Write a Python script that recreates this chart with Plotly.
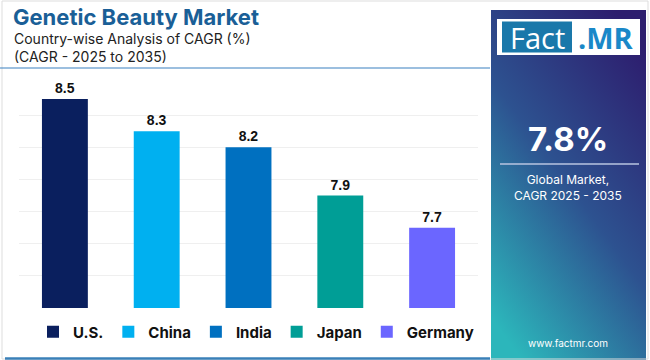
import plotly.graph_objects as go

countries = ["U.S.", "China", "India", "Japan", "Germany"]
cagr = [8.5, 8.3, 8.2, 7.9, 7.7]
colors = ["#0a1f5e", "#00b0f0", "#0070c0", "#009e96", "#6b66ff"]
global_cagr = "7.8%"

W, H = 650, 360
L, R, T, B = 19, 172, 83, 52
PW, PH = W - L - R, H - T - B


def px(x):
    return (x - L) / PW


def py(y):
    return 1 - (y - T) / PH


fig = go.Figure()
for c, v, col in zip(countries, cagr, colors):
    fig.add_trace(go.Bar(
        x=[c], y=[v], name=c, marker=dict(color=col, line=dict(width=0)),
        width=0.5, text=[f"<b>{v:.1f}</b>"], textposition="outside",
        textfont=dict(family="Liberation Sans, Arial", size=14, color="#111111"),
        cliponaxis=False, showlegend=True, hoverinfo="skip",
    ))

svg = ("data:image/svg+xml;utf8,<svg xmlns='http://www.w3.org/2000/svg' width='155' height='350'>"
       "<defs><linearGradient id='g' x1='0.8' y1='0' x2='0.2' y2='1'>"
       "<stop offset='0' stop-color='%232d1d6e'/><stop offset='0.5' stop-color='%232d5290'/>"
       "<stop offset='1' stop-color='%232cb6bb'/></linearGradient></defs>"
       "<rect width='155' height='350' fill='url(%23g)'/></svg>")

fig.add_layout_image(dict(source=svg, xref="paper", yref="paper",
                          x=px(491), y=py(10), sizex=px(646) - px(491), sizey=py(10) - py(360),
                          sizing="stretch", layer="below", xanchor="left", yanchor="top"))

shapes = [
    dict(type="rect", xref="paper", yref="paper", x0=px(2), x1=px(648), y0=py(1), y1=py(359),
         line=dict(color="#dddddd", width=1), layer="below"),
    dict(type="line", xref="paper", yref="paper", x0=px(0), x1=px(490), y0=py(68), y1=py(68),
         line=dict(color="#3a80c0", width=1.2)),
    dict(type="line", xref="paper", yref="paper", x0=px(5), x1=px(490), y0=py(358.5), y1=py(358.5),
         line=dict(color="#3a80b8", width=2.5)),
    dict(type="rect", xref="paper", yref="paper", x0=px(497), x1=px(640), y0=py(19), y1=py(55),
         fillcolor="white", line=dict(width=0)),
    dict(type="rect", xref="paper", yref="paper", x0=px(502), x1=px(572), y0=py(21.5), y1=py(52.5),
         fillcolor="#1a78aa", line=dict(width=0)),
    dict(type="line", xref="paper", yref="paper", x0=px(500), x1=px(639), y0=py(164), y1=py(164),
         line=dict(color="#b8c4e0", width=1.5)),
]

ann = [
    dict(text="<b>Genetic Beauty Market</b>", x=px(11), y=py(17), xanchor="left", yanchor="middle",
         font=dict(family="Inter, Roboto", size=22, color="#1a5f97", weight=900)),
    dict(text="Country-wise Analysis of CAGR (%)", x=px(12), y=py(38), xanchor="left", yanchor="middle",
         font=dict(family="Inter, Roboto", size=14, color="#222222")),
    dict(text="(CAGR - 2025 to 2035)", x=px(12), y=py(57), xanchor="left", yanchor="middle",
         font=dict(family="Inter, Roboto", size=14, color="#222222")),
    dict(text="Fact", x=px(537), y=py(37), xanchor="center", yanchor="middle",
         font=dict(family="Open Sans, Roboto", size=29, color="white")),
    dict(text="<b>.MR</b>", x=px(606), y=py(37), xanchor="center", yanchor="middle",
         font=dict(family="Open Sans, Roboto", size=29, color="#1a88c8")),
    dict(text="<b>" + global_cagr + "</b>", x=px(568), y=py(139), xanchor="center", yanchor="middle",
         font=dict(family="Inter, Roboto", size=33, color="white")),
    dict(text="Global Market,<br>CAGR 2025 - 2035", x=px(568), y=py(187), xanchor="center", yanchor="middle",
         font=dict(family="Inter, Roboto", size=12, color="white")),
    dict(text="www.factmr.com", x=px(568), y=py(343), xanchor="center", yanchor="middle",
         font=dict(family="Inter, Roboto", size=10, color="white")),
]
for a in ann:
    a.update(xref="paper", yref="paper", showarrow=False)

fig.update_layout(
    width=W, height=H, margin=dict(l=L, r=R, t=T, b=B, autoexpand=False),
    paper_bgcolor="white", plot_bgcolor="white",
    bargap=0.5, shapes=shapes, annotations=ann,
    xaxis=dict(showticklabels=False, showgrid=False, zeroline=False, showline=False,
               categoryorder="array", categoryarray=countries),
    yaxis=dict(range=[7.2, 8.6], dtick=0.2, showticklabels=False, showgrid=True,
               gridcolor="#efefef", gridwidth=1, zeroline=False, showline=False),
    legend=dict(orientation="h", x=px(33), y=py(332), xanchor="left", yanchor="middle",
                font=dict(family="Inter, Roboto", size=15, color="#111111", weight="bold"),
                itemwidth=30, traceorder="normal"),
    font=dict(family="Inter, Roboto"),
    hovermode=False,
)

fig.write_html("out.html", config={"displayModeBar": False},
               post_script="document.body.style.margin='0';")
